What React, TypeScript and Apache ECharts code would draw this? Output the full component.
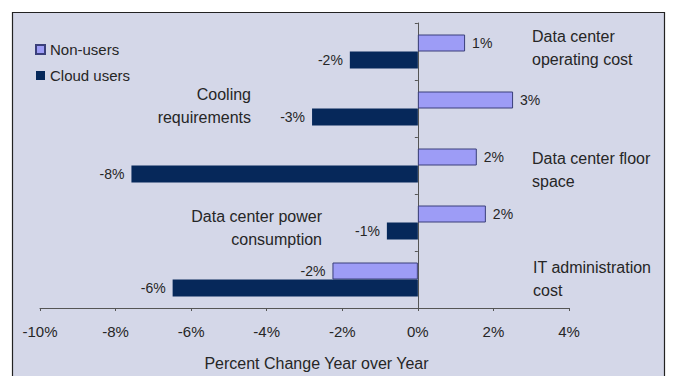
import React, { useEffect, useRef } from "react";
import * as echarts from "echarts";

const categories = [
  "Data center operating cost",
  "Cooling requirements",
  "Data center floor space",
  "Data center power consumption",
  "IT administration cost",
];
const nonUsers = [1.25, 2.52, 1.56, 1.8, -2.26];
const cloudUsers = [-1.8, -2.8, -7.58, -0.82, -6.49];
const xTicks = { min: -10, max: 4, interval: 2 };
const axisTitle = "Percent Change Year over Year";

const FONT = "'Liberation Sans', Arial, sans-serif";
const TXT = "#262626";

export default function App() {
  const ref = useRef<HTMLDivElement>(null);
  useEffect(() => {
    if (!ref.current) return;
    const chart = echarts.init(ref.current, null, { renderer: "svg" });
    const labelText = (p: any) => Math.round(p.value) + "%";
    const withLabelSide = (arr: number[]) =>
      arr.map((v) => ({
        value: v,
        label: { position: v < 0 ? "left" : "right" },
      }));
    const catText = (
      text: string,
      x: number,
      y: number,
      align: "left" | "right"
    ) => ({
      type: "text",
      x,
      y,
      z: 10,
      style: {
        text,
        fill: TXT,
        font: `16px ${FONT}`,
        align,
        verticalAlign: "middle",
        lineHeight: 23,
      },
    });
    const valueLabel = {
      show: true,
      distance: 7,
      formatter: labelText,
      color: TXT,
      fontSize: 14,
      fontFamily: FONT,
    };
    chart.setOption({
      animation: false,
      backgroundColor: "#ffffff",
      textStyle: { fontFamily: FONT },
      grid: { left: 40, right: 104, top: 23, bottom: 64 },
      legend: {
        orient: "vertical",
        left: 30,
        top: 37,
        itemWidth: 9,
        itemHeight: 9,
        itemGap: 11,
        icon: "rect",
        textStyle: { color: TXT, fontSize: 15, fontFamily: FONT },
        data: ["Non-users", "Cloud users"],
      },
      xAxis: {
        type: "value",
        min: xTicks.min,
        max: xTicks.max,
        interval: xTicks.interval,
        axisLine: { show: true, lineStyle: { color: "#555", width: 1 } },
        axisTick: { show: true, length: 3, lineStyle: { color: "#555" } },
        splitLine: { show: false },
        axisLabel: {
          formatter: (v: number) => v + "%",
          color: TXT,
          fontSize: 15,
          fontFamily: FONT,
          margin: 16,
        },
        name: axisTitle,
        nameLocation: "middle",
        nameGap: 47,
        nameTextStyle: {
          color: TXT,
          fontSize: 16,
          fontFamily: FONT,
          padding: [0, 0, 0, 24],
        },
      },
      yAxis: {
        type: "category",
        data: categories,
        inverse: true,
        axisLine: { show: true, onZero: true, lineStyle: { color: "#555" } },
        axisTick: { show: true, length: 3, lineStyle: { color: "#555" } },
        axisLabel: { show: false },
      },
      graphic: [
        {
          type: "rect",
          z: -100,
          shape: { x: 12.5, y: 12.5, width: 652, height: 400 },
          style: { fill: "#d4d7e8", stroke: "#222", lineWidth: 1.2 },
        },
        catText("Data center\noperating cost", 532, 48, "left"),
        catText("Cooling\nrequirements", 251, 106, "right"),
        catText("Data center floor\nspace", 532, 170, "left"),
        catText("Data center power\nconsumption", 322, 228, "right"),
        catText("IT administration\ncost", 533, 279, "left"),
      ],
      series: [
        {
          name: "Non-users",
          type: "bar",
          data: withLabelSide(nonUsers),
          barWidth: 17,
          barGap: "0%",
          itemStyle: { color: "#9d9cf6", borderColor: "#3a3f7a", borderWidth: 1 },
          label: { ...valueLabel, position: "right" },
        },
        {
          name: "Cloud users",
          type: "bar",
          data: withLabelSide(cloudUsers),
          barWidth: 17,
          barGap: "0%",
          itemStyle: { color: "#06285a" },
          label: { ...valueLabel, position: "left" },
        },
      ],
    });
    return () => chart.dispose();
  }, []);
  return (
    <div
      ref={ref}
      style={{ position: "absolute", left: 0, top: 0, width: 673, height: 376 }}
    />
  );
}
